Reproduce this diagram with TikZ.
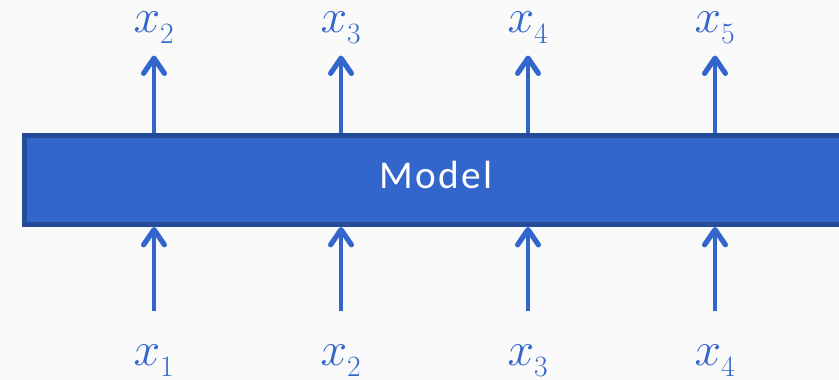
\RequirePackage{fix-cm}
\documentclass[tikz,border=0pt]{standalone}
\usepackage{amsmath}
\usepackage{fontspec}
\newfontfamily\modelfont[LetterSpace=6]{Carlito}
\usetikzlibrary{positioning,arrows.meta}
\usepackage{xcolor}
\definecolor{bg}{HTML}{FAFAFA}
\definecolor{modelblue}{HTML}{3366CC}
\definecolor{modeledge}{HTML}{244C99}
\DeclareMathSizes{34}{34}{21}{14}
\newcommand\tokx[1]{x_{\lower2.5pt\hbox{$\scriptstyle#1$}}}

\begin{document}
\begin{tikzpicture}[x=0.025cm,y=0.025cm,>={Straight Barb[length=3.8mm,width=5.2mm,line width=1.3mm,round]},
  lbl/.style={text=modelblue,font=\fontsize{34}{40}\selectfont,inner sep=0pt,anchor=base},
  arr/.style={->,draw=modelblue,line width=0.1cm}]
\useasboundingbox (0,0) rectangle (839,380);
\clip (0,0) rectangle (839,380);
\fill[bg] (0,0) rectangle (839,380);
\node[draw=modeledge,fill=modelblue,line width=0.125cm,minimum width=20.575cm,minimum height=2.225cm,inner sep=0pt,text height=0.44cm,text depth=0cm,text=white,font=\modelfont\fontsize{28}{32}\selectfont] (model) at (436,200) {Model};
\foreach \n/\x in {1/154,2/341,3/528,4/715}{
  \pgfmathtruncatemacro\m{\n+1}
  \node[lbl] (in\n) at (\x,14) {$\tokx{\n}$};
  \node[lbl] (out\n) at (\x,347) {$\tokx{\m}$};
  \draw[arr,shorten <=0.85cm] (in\n) -- (in\n |- model.south);
  \draw[arr,shorten >=0.29cm] (model.north -| out\n) -- (out\n);
}
\end{tikzpicture}
\end{document}
